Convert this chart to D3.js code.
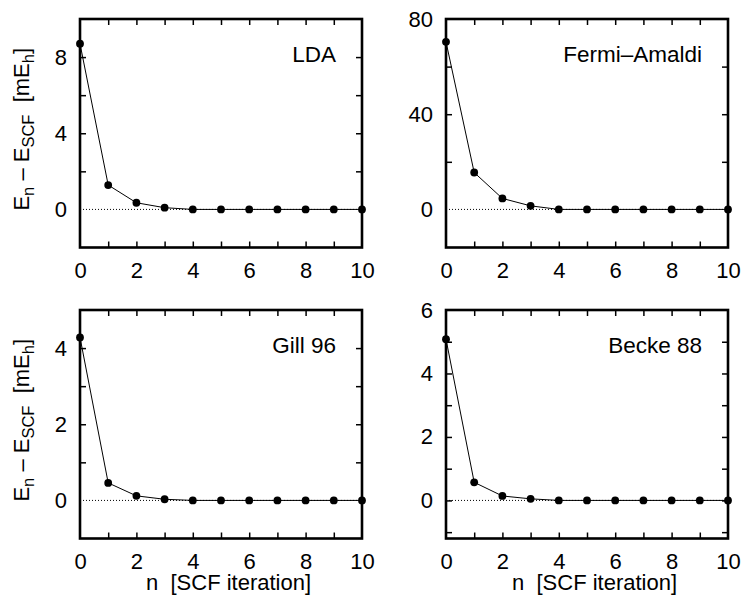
<!DOCTYPE html>
<html>
<head>
<meta charset="utf-8">
<script src="https://cdn.jsdelivr.net/npm/d3@7"></script>
<style>
  body { margin: 0; background: #fff; }
  svg { display: block; font-family: 'Liberation Sans', Arial, sans-serif; }
</style>
</head>
<body>
<svg id="chart" width="747" height="596"></svg>
<script>
/* data: energy error per SCF iteration */
const iterations = [0, 1, 2, 3, 4, 5, 6, 7, 8, 9, 10]
const ldaValues = [8.7, 1.28, 0.35, 0.09, 0, 0, 0, 0, 0, 0, 0]
const fermiValues = [70.4, 15.5, 4.6, 1.5, 0, 0, 0, 0, 0, 0, 0]
const gillValues = [4.28, 0.46, 0.12, 0.03, 0, 0, 0, 0, 0, 0, 0]
const beckeValues = [5.08, 0.57, 0.14, 0.05, 0, 0, 0, 0, 0, 0, 0]

/* tick labels */
const xLabelTicks = [0, 2, 4, 6, 8, 10]
const xAllTicks = [1, 2, 3, 4, 5, 6, 7, 8, 9]
const ldaTicks = [0, 4, 8]
const ldaMinor = [2, 4, 6, 8]
const fermiTicks = [0, 40, 80]
const fermiMinor = [20, 40, 60]
const gillTicks = [0, 2, 4]
const gillMinor = [1, 2, 3, 4]
const beckeTicks = [0, 2, 4, 6]
const beckeMinor = [-1, 0, 1, 2, 3, 4, 5]

/* panel definitions built from the arrays above */
const panels = [
  { title: 'LDA', values: ldaValues, domain: [-2, 10], ticks: ldaTicks, minor: ldaMinor, col: 0, row: 0 },
  { title: 'Fermi\u2013Amaldi', values: fermiValues, domain: [-16, 80], ticks: fermiTicks, minor: fermiMinor, col: 1, row: 0 },
  { title: 'Gill 96', values: gillValues, domain: [-1, 5], ticks: gillTicks, minor: gillMinor, col: 0, row: 1 },
  { title: 'Becke 88', values: beckeValues, domain: [-1.2, 6], ticks: beckeTicks, minor: beckeMinor, col: 1, row: 1 }
]

/* layout */
const colLeft = [80, 446]
const rowTop = [19, 310]
const pw = 282
const ph = 228.5
const fontSize = 22
const subSize = 16.5

const svg = d3.select('#chart')

function styleText(g) {
  g.selectAll('text')
    .attr('font-size', fontSize)
    .attr('font-family', "'Liberation Sans', Arial, sans-serif")
    .attr('fill', '#000')
}

/* fn: draw one panel */
function drawPanel(p) {
  const x0 = colLeft[p.col]
  const y0 = rowTop[p.row]
  const g = svg.append('g').attr('transform', `translate(${x0}, ${y0})`)

  const x = d3.scaleLinear().domain([0, 10]).range([0, pw])
  const y = d3.scaleLinear().domain(p.domain).range([ph, 0])

  /* zero line (dotted) */
  g.append('line')
    .attr('x1', 0).attr('x2', pw)
    .attr('y1', y(0)).attr('y2', y(0))
    .attr('stroke', '#000')
    .attr('stroke-width', 1)
    .attr('stroke-dasharray', '1,2')

  /* inward ticks on all four sides */
  const tickLen = 6
  g.append('g').attr('transform', `translate(0, ${ph})`)
    .call(d3.axisBottom(x).tickValues(xAllTicks).tickSize(-tickLen).tickFormat(''))
  g.append('g')
    .call(d3.axisTop(x).tickValues(xAllTicks).tickSize(-tickLen).tickFormat(''))
  g.append('g')
    .call(d3.axisLeft(y).tickValues(p.minor).tickSize(-tickLen).tickFormat(''))
  g.append('g').attr('transform', `translate(${pw}, 0)`)
    .call(d3.axisRight(y).tickValues(p.minor).tickSize(-tickLen).tickFormat(''))
  g.selectAll('.domain').remove()
  g.selectAll('.tick line').attr('stroke', '#000').attr('stroke-width', 1.5)

  /* tick labels */
  g.append('g').attr('class', 'xlab').attr('transform', `translate(0, ${ph})`)
    .call(d3.axisBottom(x).tickValues(xLabelTicks).tickSize(0).tickPadding(15).tickFormat(d3.format('~g')))
    .call((a) => a.select('.domain').remove())
    .call(styleText)
  g.append('g').attr('class', 'ylab')
    .call(d3.axisLeft(y).tickValues(p.ticks).tickSize(0).tickPadding(13).tickFormat(d3.format('~g')))
    .call((a) => a.select('.domain').remove())
    .call(styleText)

  /* line + points */
  const pts = iterations.map((n, i) => ({ n: n, v: p.values[i] }))
  const line = d3.line().x((d) => x(d.n)).y((d) => y(d.v))
  g.append('path')
    .datum(pts)
    .attr('d', line)
    .attr('fill', 'none')
    .attr('stroke', '#000')
    .attr('stroke-width', 1)

  /* frame */
  g.append('rect')
    .attr('x', 0).attr('y', 0)
    .attr('width', pw).attr('height', ph)
    .attr('fill', 'none')
    .attr('stroke', '#000')
    .attr('stroke-width', 2.6)

  g.selectAll('circle.pt')
    .data(pts)
    .enter()
    .append('circle')
    .attr('class', 'pt')
    .attr('cx', (d) => x(d.n))
    .attr('cy', (d) => y(d.v))
    .attr('r', 3.9)
    .attr('fill', '#000')

  /* panel title */
  g.append('text')
    .attr('x', pw - 26)
    .attr('y', 43)
    .attr('text-anchor', 'end')
    .attr('font-size', 22.5)
    .attr('fill', '#000')
    .text(p.title)

  /* y-axis label on left column */
  if (p.col === 0) {
    const t = svg.append('text')
      .attr('transform', `translate(28.5, ${y0 + ph / 2 - 4}) rotate(-90)`)
      .attr('text-anchor', 'middle')
      .attr('font-size', fontSize)
      .attr('fill', '#000')
    t.append('tspan').text('E')
    t.append('tspan').attr('font-size', subSize).attr('dy', 5).text('n')
    t.append('tspan').attr('dy', -5).text(' \u2013 E')
    t.append('tspan').attr('font-size', subSize).attr('dy', 5).text('SCF')
    t.append('tspan').attr('dy', -5).text('\u00a0 [mE')
    t.append('tspan').attr('font-size', subSize).attr('dy', 5).text('h')
    t.append('tspan').attr('dy', -5).text(']')
  }

  /* x-axis label on bottom row */
  if (p.row === 1) {
    svg.append('text')
      .attr('x', x0 + 66)
      .attr('y', y0 + ph + 51.5)
      .attr('text-anchor', 'start')
      .attr('font-size', fontSize)
      .attr('fill', '#000')
      .text('n \u00a0[SCF iteration]')
  }
}

panels.forEach(drawPanel)
</script>
</body>
</html>
